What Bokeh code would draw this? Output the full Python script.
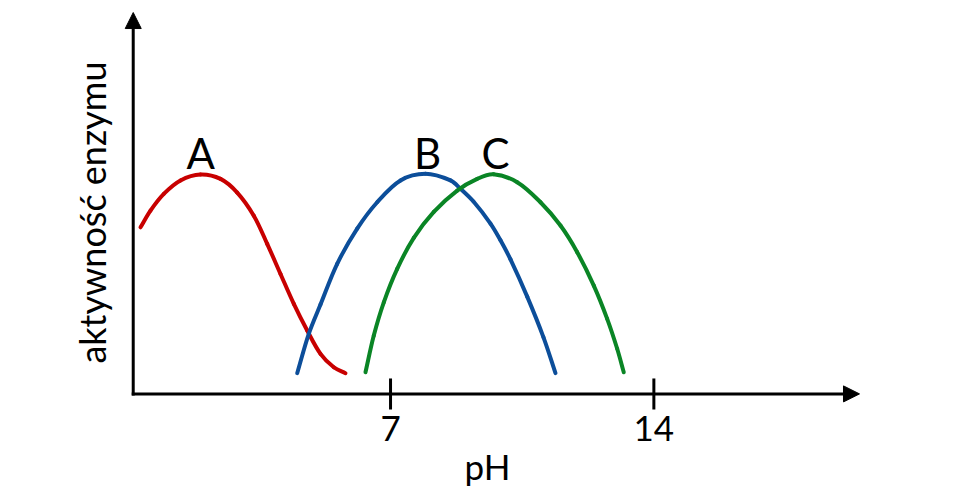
import numpy as np
from bokeh.plotting import figure
from bokeh.models import Range1d, Arrow, NormalHead
from bokeh.embed import file_html
from bokeh.resources import INLINE
from bokeh.core.properties import value

# ---- data (x: pH, y: relative enzyme activity, peak = 100) ----
ph_A = [0.354, 0.619, 0.973, 1.417, 1.948, 2.480, 2.924, 3.365, 3.721, 4.075,
        4.429, 4.785, 5.138, 5.492, 5.803]
act_A = [75.7, 83.3, 90.9, 97.0, 99.7, 97.7, 91.5, 81.0, 68.2, 54.5,
         40.9, 28.8, 18.2, 12.1, 9.4]

ph_B = [4.519, 4.827, 5.138, 5.582, 6.114, 6.645, 7.265, 7.929, 8.594, 8.860,
        9.205, 9.657, 9.923, 10.189, 10.633, 11.066, 11.385]
act_B = [9.4, 27.3, 40.6, 59.1, 75.1, 87.1, 97.0, 100.0, 97.0, 93.2,
         87.4, 77.4, 69.8, 61.1, 44.2, 25.7, 9.4]

ph_C = [6.334, 6.555, 6.821, 7.177, 7.618, 8.150, 8.772, 9.304, 9.737, 10.367,
        10.986, 11.518, 11.962, 12.403, 12.759, 13.025, 13.200]
act_C = [9.8, 26.5, 41.6, 56.8, 70.9, 82.7, 92.4, 97.7, 99.8, 96.2,
         87.1, 76.5, 64.4, 49.2, 34.1, 20.5, 9.8]

curve_names = ["A", "B", "C"]
curve_colors = ["#C80000", "#0C4E9A", "#0A8525"]

tick_values = [7, 14]
tick_labels = ["7", "14"]

x_title = "pH"
y_title = "aktywność enzymu"

FONT = value("Lato")

W, H = 960, 499
XR = (-3.368, 22.151)
YR = (-48.0, 178.77)

p = figure(width=W, height=H,
           x_range=Range1d(*XR), y_range=Range1d(*YR),
           output_backend="svg", toolbar_location=None,
           x_axis_location=None, y_axis_location=None,
           min_border=0, outline_line_color=None)
p.grid.visible = False
p.background_fill_color = "white"
p.border_fill_color = "white"

# axes drawn as arrows
p.add_layout(Arrow(end=NormalHead(size=16, fill_color="black", line_color="black", line_width=1),
                   x_start=0.16, y_start=-0.7, x_end=0.16, y_end=173.3,
                   line_width=3, line_color="black"))
p.add_layout(Arrow(end=NormalHead(size=16, fill_color="black", line_color="black", line_width=1),
                   x_start=0.12, y_start=0.0, x_end=19.466, y_end=0.0,
                   line_width=3, line_color="black"))

# ticks
p.segment(x0=tick_values, y0=[7.0] * len(tick_values), x1=tick_values, y1=[-7.1] * len(tick_values),
          line_color="black", line_width=3)
p.text(x=tick_values, y=[-15.7] * len(tick_values), text=tick_labels,
       text_font=FONT, text_font_size="35px", text_align="center",
       text_baseline="alphabetic", text_color="black")

SX = W / (XR[1] - XR[0])   # pixels per pH unit
SY = H / (YR[1] - YR[0])   # pixels per activity unit


def smooth_curve(xs, ys, color):
    """Draw a smooth curve through the read points (chord-length Catmull-Rom as cubic Beziers)."""
    P = np.column_stack([np.asarray(xs, float), np.asarray(ys, float)])
    n = len(P)
    seg = P[1:] - P[:-1]
    d = np.hypot(seg[:, 0] * SX, seg[:, 1] * SY)       # chord lengths in pixels
    m = np.zeros_like(P)
    m[0] = seg[0] / d[0]
    m[-1] = seg[-1] / d[-1]
    for i in range(1, n - 1):
        m[i] = (P[i + 1] - P[i - 1]) / (d[i - 1] + d[i])
    c0 = P[:-1] + m[:-1] * (d[:, None] / 3.0)
    c1 = P[1:] - m[1:] * (d[:, None] / 3.0)
    p.bezier(x0=P[:-1, 0], y0=P[:-1, 1], x1=P[1:, 0], y1=P[1:, 1],
             cx0=c0[:, 0], cy0=c0[:, 1], cx1=c1[:, 0], cy1=c1[:, 1],
             line_color=color, line_width=4, line_cap="round")


for xs, ys, c in zip([ph_A, ph_B, ph_C], [act_A, act_B, act_C], curve_colors):
    smooth_curve(xs, ys, c)

# curve letters
p.text(x=[1.954, 7.982, 9.790], y=[109.3] * 3, text=curve_names,
       text_font=FONT, text_font_size="42px", text_align="center",
       text_baseline="alphabetic", text_color="black")

# axis titles
p.text(x=[9.577], y=[-33.0], text=[x_title], text_font=FONT, text_font_size="35px",
       text_align="center", text_baseline="alphabetic", text_color="black")
p.text(x=[-0.949], y=[82.4], text=[y_title], angle=np.pi / 2, text_font=FONT,
       text_font_size="36px", text_align="center", text_baseline="alphabetic",
       text_color="black")

open("out.html", "w").write(file_html(p, INLINE))
